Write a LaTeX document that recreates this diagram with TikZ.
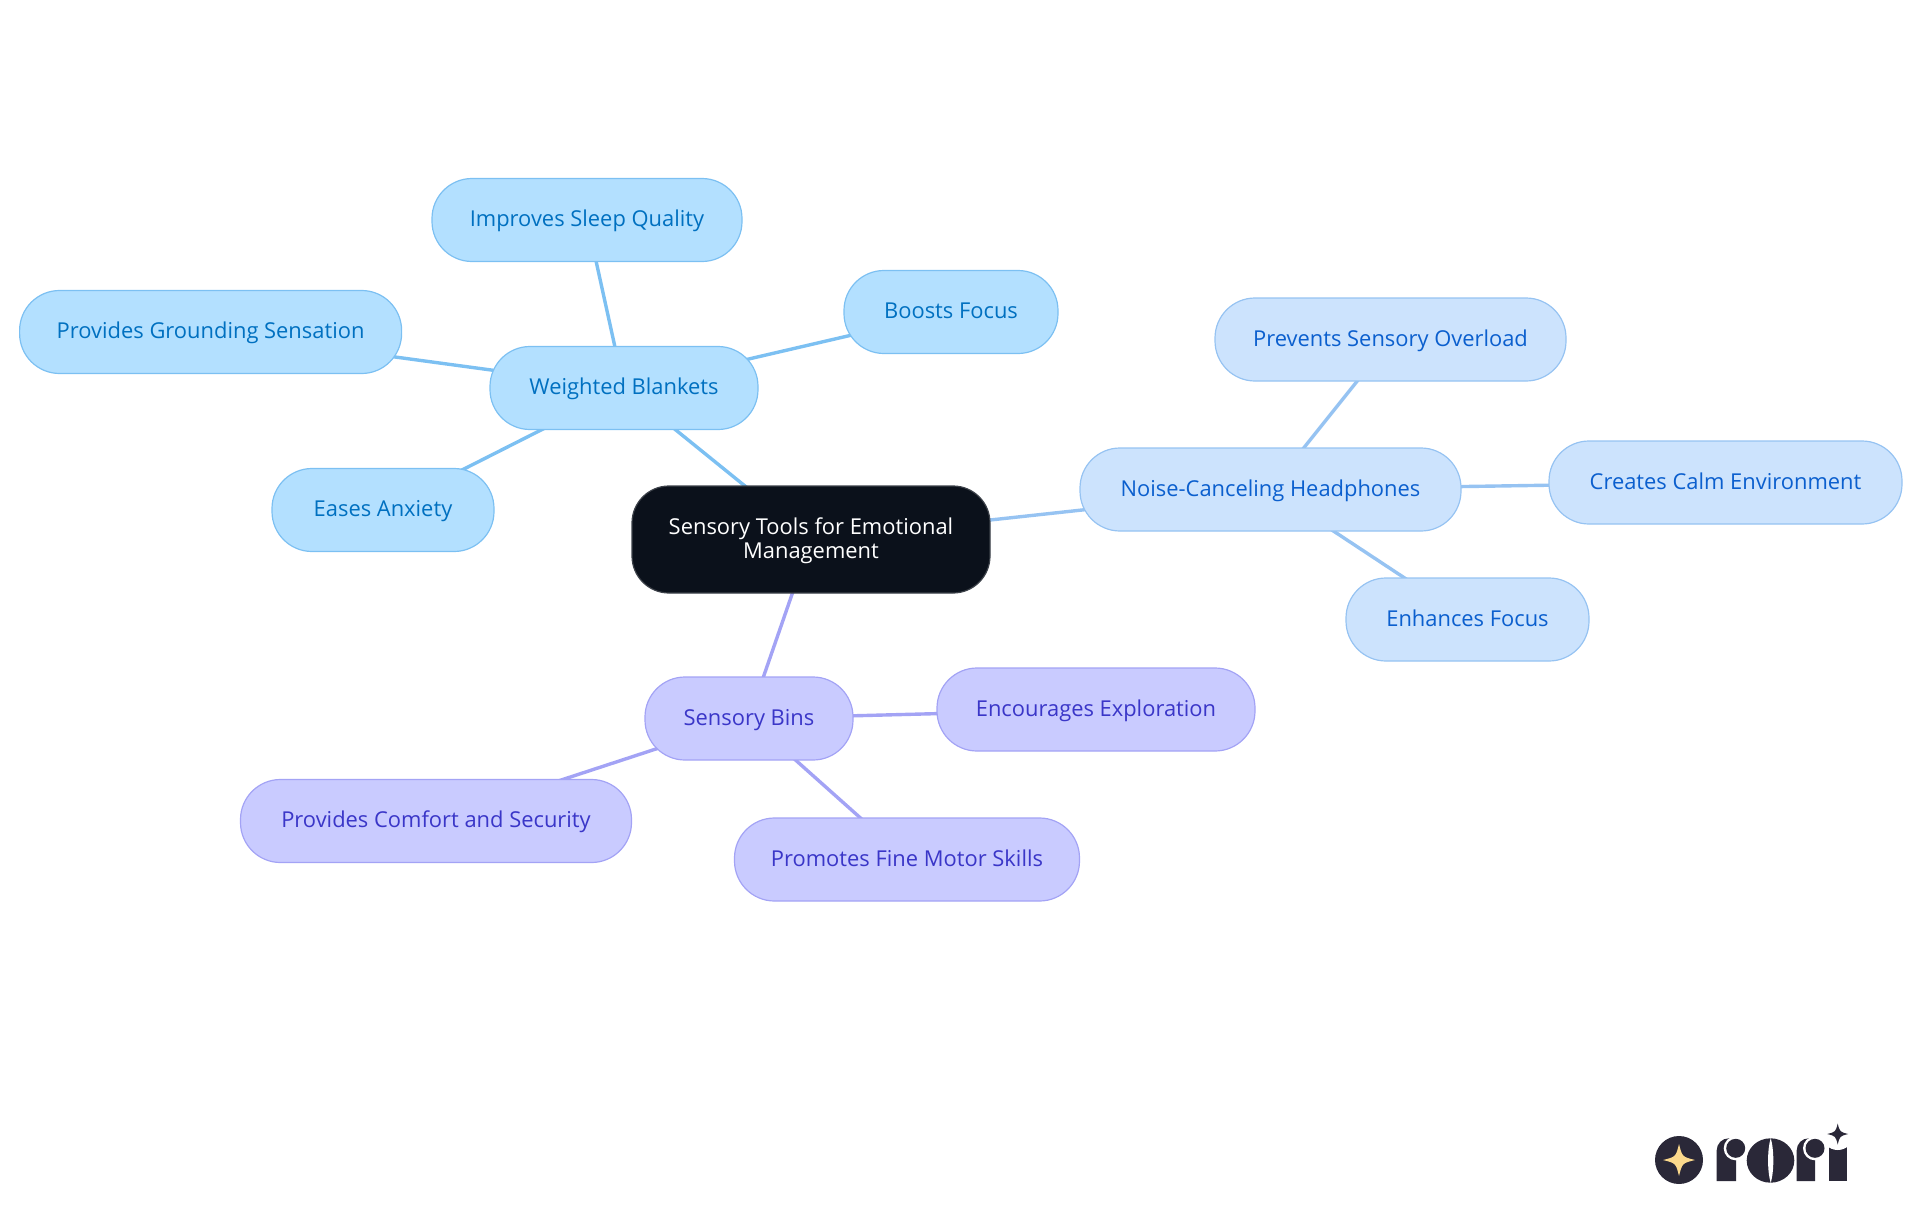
\documentclass[tikz,border=0pt]{standalone}
\usepackage{fontspec}
\setmainfont{Open Sans}
\usetikzlibrary{positioning,backgrounds}
\definecolor{skyfill}{HTML}{B3E0FF}
\definecolor{skyline}{HTML}{7CC0F2}
\definecolor{skytext}{HTML}{0070C0}
\definecolor{palefill}{HTML}{CCE3FD}
\definecolor{paleline}{HTML}{96C3F2}
\definecolor{paletext}{HTML}{0B5FCE}
\definecolor{violetfill}{HTML}{C9CBFF}
\definecolor{violetline}{HTML}{A3A3F5}
\definecolor{violettext}{HTML}{3A36C8}
\definecolor{rootfill}{HTML}{0B111B}
\definecolor{logodark}{HTML}{2A2838}
\definecolor{logostar}{HTML}{FBD98C}
\newcommand{\sparkle}[4]{\fill[#4] (#1-#3,#2) .. controls (#1-0.2*#3,#2-0.2*#3) .. (#1,#2-#3) .. controls (#1+0.2*#3,#2-0.2*#3) .. (#1+#3,#2) .. controls (#1+0.2*#3,#2+0.2*#3) .. (#1,#2+#3) .. controls (#1-0.2*#3,#2+0.2*#3) .. cycle;}
\begin{document}
\begin{tikzpicture}[x=1pt,y=-1pt,
    every node/.style={font=\fontsize{21.9}{24}\selectfont,align=center,inner sep=0pt,outer sep=0pt},
    topic/.style={draw,line width=1.2pt,rounded corners=40pt,minimum height=83pt,text height=17pt,text depth=3.6pt},
    skybox/.style={topic,fill=skyfill,draw=skyline,text=skytext},
    palebox/.style={topic,fill=palefill,draw=paleline,text=paletext},
    violetbox/.style={topic,fill=violetfill,draw=violetline,text=violettext},
    rootbox/.style={draw=rootfill!80!white,line width=1.2pt,rounded corners=37pt,fill=rootfill,text=white,minimum width=358pt,minimum height=107pt},
    skyedge/.style={draw=skyline,line width=3.4pt},
    paleedge/.style={draw=paleline,line width=3.4pt},
    violetedge/.style={draw=violetline,line width=3.4pt}
]
\useasboundingbox (0,0) rectangle (1920,1215);

% Root
\node[rootbox] (root) at (811,539.5) {\rule{0pt}{19pt}Sensory Tools for Emotional\\Management};

% Weighted blankets branch
\node[skybox,minimum width=268pt,above=56.5pt of root,xshift=-187pt] (blankets) {Weighted Blankets};
\node[skybox,minimum width=310pt,above=85pt of blankets,xshift=-37pt] (sleep) {Improves Sleep Quality};
\node[skybox,minimum width=214pt,right=86pt of blankets,yshift=76pt] (boosts) {Boosts Focus};
\node[skybox,minimum width=382pt,left=88.4pt of blankets,yshift=56pt] (grounding) {Provides Grounding Sensation};
\node[skybox,minimum width=222pt,below=39pt of blankets,xshift=-241pt] (anxiety) {Eases Anxiety};

% Headphones branch
\node[palebox,minimum width=381pt,right=90pt of root,yshift=50pt] (headphones) {Noise-Canceling Headphones};
\node[palebox,minimum width=351pt,above=67pt of headphones,xshift=120pt] (overload) {Prevents Sensory Overload};
\node[palebox,minimum width=353pt,right=88pt of headphones,yshift=7pt] (calm) {Creates Calm Environment};
\node[palebox,minimum width=243pt,below=47pt of headphones,xshift=197pt] (enhances) {Enhances Focus};

% Sensory bins branch
\node[violetbox,minimum width=208pt,below=84pt of root,xshift=-62pt] (bins) {Sensory Bins};
\node[violetbox,minimum width=318pt,right=84pt of bins,yshift=9pt] (explore) {Encourages Exploration};
\node[violetbox,minimum width=391pt,below=19.5pt of bins,xshift=-313pt] (comfort) {Provides Comfort and Security};
\node[violetbox,minimum width=345pt,below=58pt of bins,xshift=158pt] (motor) {Promotes Fine Motor Skills};

% Connections
\begin{scope}[on background layer]
\draw[skyedge] (root.center) -- (blankets.center);
\draw[skyedge] (blankets.center) -- (sleep.center);
\draw[skyedge] (blankets.center) -- (boosts.center);
\draw[skyedge] (blankets.center) -- (grounding.center);
\draw[skyedge] (blankets.center) -- (anxiety.center);
\draw[paleedge] (root.center) -- (headphones.center);
\draw[paleedge] (headphones.center) -- (overload.center);
\draw[paleedge] (headphones.center) -- (calm.center);
\draw[paleedge] (headphones.center) -- (enhances.center);
\draw[violetedge] (root.center) -- (bins.center);
\draw[violetedge] (bins.center) -- (explore.center);
\draw[violetedge] (bins.center) -- (comfort.center);
\draw[violetedge] (bins.center) -- (motor.center);
\end{scope}

% Logo
\fill[logodark] (1679,1160) circle (24);
\sparkle{1679}{1160}{16}{logostar}
\fill[logodark] (1716.7,1181) -- (1716.7,1150.3) arc (180:270:12) -- (1736,1138.3) -- (1736,1181) -- cycle;
\fill[white] (1735.7,1148.3) circle (12);
\fill[logodark] (1735.7,1148.3) circle (9.5);
\fill[logodark] (1770.5,1160.5) ellipse (23.8 and 22.2);
\fill[white] (1770.7,1138) .. controls (1767.2,1150) and (1767.2,1171) .. (1770.7,1183) .. controls (1774.2,1171) and (1774.2,1150) .. cycle;
\fill[logodark] (1796.7,1181) -- (1796.7,1150.3) arc (180:270:12) -- (1815,1138.3) -- (1815,1181) -- cycle;
\fill[white] (1815,1148.3) circle (12);
\fill[logodark] (1815,1148.3) circle (9.5);
\fill[logodark] (1829,1181) -- (1829,1146) -- (1846.7,1146) -- (1846.7,1181) -- cycle;
\fill[white] (1837.7,1134) circle (16);
\sparkle{1837.7}{1134}{10.5}{logodark}
\end{tikzpicture}
\end{document}
